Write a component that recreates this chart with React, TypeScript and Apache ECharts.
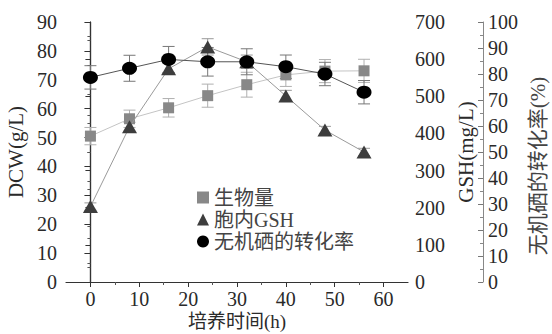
import React, { useEffect, useRef } from "react";
import * as echarts from "echarts";

const times = [0, 8, 16, 24, 32, 40, 48, 56];
const biomass = [50.5, 56.5, 60.3, 64.5, 68.3, 71.7, 73.0, 73.1];
const biomassErr = [3, 3, 3.2, 4, 4.3, 4, 4, 4];
const gsh = [203, 418, 574, 633, 593, 501, 409, 350];
const gshErr = [10, 12, 15, 22, 18, 15, 10, 10];
const conv = [78.7, 82.2, 85.6, 84.7, 84.7, 82.8, 80.0, 73.0];
const convErr = [4.5, 5, 5, 5.5, 5, 4.5, 4.5, 4.5];

const xLabels = [0, 10, 20, 30, 40, 50, 60];
const xMinor = [5, 15, 25, 35, 45, 55];

const seriesNames = ["生物量", "胞内GSH", "无机硒的转化率"];
const convAxisName = "无机硒的转化率(%)";

const FONT = '"Liberation Serif", "Noto Sans CJK SC", serif';
const TXT = "#2a2a2a";

function errData(vals: number[], errs: number[]) {
  return times.map((t, i) => [t, vals[i] - errs[i], vals[i] + errs[i]]);
}

function errRender(color: string) {
  return (params: any, api: any) => {
    const x = api.value(0);
    const lo = api.coord([x, api.value(1)]);
    const hi = api.coord([x, api.value(2)]);
    const w = 6;
    const style = { stroke: color, lineWidth: 1 };
    return {
      type: "group",
      children: [
        { type: "line", shape: { x1: lo[0], y1: lo[1], x2: hi[0], y2: hi[1] }, style },
        { type: "line", shape: { x1: lo[0] - w, y1: lo[1], x2: lo[0] + w, y2: lo[1] }, style },
        { type: "line", shape: { x1: hi[0] - w, y1: hi[1], x2: hi[0] + w, y2: hi[1] }, style },
      ],
    };
  };
}

export default function App() {
  const ref = useRef<HTMLDivElement>(null);
  useEffect(() => {
    document.body.style.margin = "0";
    const chart = echarts.init(ref.current!, null, { renderer: "svg" });
    const axisLabel = { fontFamily: FONT, fontSize: 20, color: TXT };
    const nameStyle = { fontFamily: FONT, fontSize: 21, color: TXT };
    chart.setOption({
      animation: false,
      backgroundColor: "#fff",
      textStyle: { fontFamily: FONT },
      grid: { left: 66, right: 144, top: 22, bottom: 52, outerBoundsMode: "none", containLabel: false },
      legend: {
        orient: "vertical",
        left: 192,
        top: 182,
        itemWidth: 12,
        itemHeight: 12,
        itemGap: 1,
        textStyle: { fontFamily: FONT, fontSize: 20, color: "#444", lineHeight: 21 },
        data: [
          { name: seriesNames[0], icon: "rect" },
          { name: seriesNames[1], icon: "triangle" },
          { name: seriesNames[2], icon: "circle" },
        ],
      },
      graphic: [
        {
          type: "text",
          x: 538,
          y: 166,
          rotation: Math.PI / 2,
          style: {
            text: convAxisName,
            fontFamily: FONT,
            fontSize: 21,
            fill: "#444",
            textAlign: "center",
            textVerticalAlign: "middle",
          },
        },
      ],
      xAxis: [
        {
          type: "value",
          min: -5,
          max: 65,
          name: "培养时间(h)",
          nameLocation: "middle",
          nameGap: 30,
          nameMoveOverlap: false,
          nameTextStyle: { ...nameStyle, fontSize: 19, lineHeight: 19 },
          axisLine: { show: true, lineStyle: { color: "#333", width: 1.2 } },
          axisTick: { show: true, customValues: xLabels, length: 5, lineStyle: { color: "#333" } },
          axisLabel: { ...axisLabel, customValues: xLabels, margin: 8, lineHeight: 18 },
          splitLine: { show: false },
        },
        {
          type: "value",
          min: -5,
          max: 65,
          position: "bottom",
          axisLine: { show: false },
          axisTick: { show: true, customValues: xMinor, length: 3, lineStyle: { color: "#555" } },
          axisLabel: { show: false },
          splitLine: { show: false },
        },
      ],
      yAxis: [
        {
          type: "value",
          min: 0,
          max: 90,
          interval: 10,
          position: "left",
          name: "DCW(g/L)",
          nameLocation: "middle",
          nameGap: 37,
          nameTextStyle: nameStyle,
          axisLine: { show: true, lineStyle: { color: "#333", width: 1.2 } },
          axisTick: { show: true, length: 6, lineStyle: { color: "#333" } },
          minorTick: { show: true, splitNumber: 2, length: 3, lineStyle: { color: "#555" } },
          axisLabel: { ...axisLabel, margin: 9 },
          splitLine: { show: false },
        },
        {
          type: "value",
          min: 0,
          max: 700,
          interval: 100,
          position: "right",
          name: "GSH(mg/L)",
          nameLocation: "middle",
          nameGap: 42,
          nameRotate: 90,
          nameTextStyle: nameStyle,
          axisLine: { show: true, lineStyle: { color: "#333", width: 1.2 } },
          axisTick: { show: true, inside: true, length: 5, lineStyle: { color: "#333" } },
          minorTick: { show: true, splitNumber: 2, length: 3, lineStyle: { color: "#555" } },
          axisLabel: { ...axisLabel, margin: 7 },
          splitLine: { show: false },
        },
        {
          type: "value",
          min: 0,
          max: 100,
          interval: 10,
          position: "right",
          offset: 75,
          axisLine: { show: true, lineStyle: { color: "#888", width: 1 } },
          axisTick: { show: true, inside: true, length: 5, lineStyle: { color: "#777" } },
          minorTick: { show: true, splitNumber: 2, length: 3, lineStyle: { color: "#888" } },
          axisLabel: { ...axisLabel, margin: 5 },
          splitLine: { show: false },
        },
      ],
      series: [
        {
          type: "custom",
          xAxisIndex: 0,
          yAxisIndex: 0,
          renderItem: errRender("#b0b0b0"),
          data: errData(biomass, biomassErr),
          z: 1,
          silent: true,
        },
        {
          type: "custom",
          xAxisIndex: 0,
          yAxisIndex: 1,
          renderItem: errRender("#999"),
          data: errData(gsh, gshErr),
          z: 1,
          silent: true,
        },
        {
          type: "custom",
          xAxisIndex: 0,
          yAxisIndex: 2,
          renderItem: errRender("#777"),
          data: errData(conv, convErr),
          z: 1,
          silent: true,
        },
        {
          name: seriesNames[0],
          type: "line",
          xAxisIndex: 0,
          yAxisIndex: 0,
          data: times.map((t, i) => [t, biomass[i]]),
          symbol: "rect",
          symbolSize: 11,
          itemStyle: { color: "#888" },
          lineStyle: { color: "#c4c4c4", width: 1 },
          z: 3,
        },
        {
          name: seriesNames[1],
          type: "line",
          xAxisIndex: 0,
          yAxisIndex: 1,
          data: times.map((t, i) => [t, gsh[i]]),
          symbol: "triangle",
          symbolSize: [15, 13],
          itemStyle: { color: "#3d3d3d" },
          lineStyle: { color: "#9a9a9a", width: 1 },
          z: 4,
        },
        {
          name: seriesNames[2],
          type: "line",
          xAxisIndex: 0,
          yAxisIndex: 2,
          data: times.map((t, i) => [t, conv[i]]),
          symbol: "circle",
          symbolSize: [15, 13],
          itemStyle: { color: "#000" },
          lineStyle: { color: "#555", width: 1 },
          z: 5,
        },
      ],
    });
    return () => chart.dispose();
  }, []);
  return <div ref={ref} style={{ width: 552, height: 334 }} />;
}
